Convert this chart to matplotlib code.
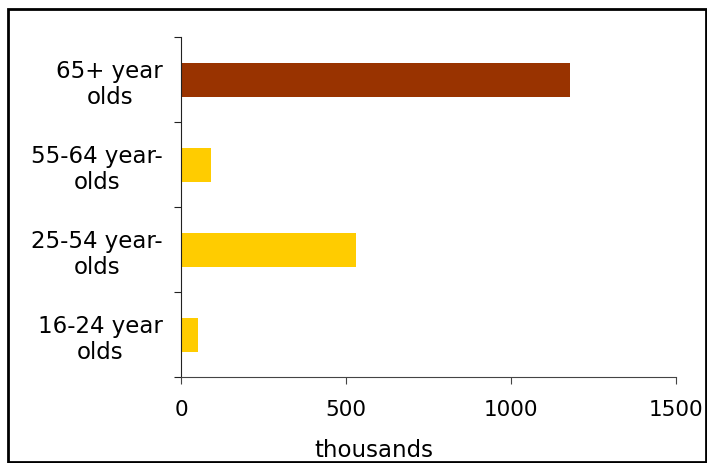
import matplotlib
matplotlib.use("Agg")
import matplotlib.pyplot as plt
from matplotlib.patches import Rectangle

categories = ["16-24 year\nolds", "25-54 year-\nolds", "55-64 year-\nolds", "65+ year\nolds"]
values = [50, 530, 90, 1179]
colors = ["#FFCC00", "#FFCC00", "#FFCC00", "#993300"]
xticks = [0, 500, 1000, 1500]

W, H = 707, 464
fig = plt.figure(figsize=(W / 100, H / 100), dpi=100)
ax = fig.add_axes([181 / W, 1 - 378 / H, (676 - 181) / W, (378 - 38) / H])

ypos = list(range(len(categories)))
ax.barh(ypos, values, height=0.4, color=colors)
ax.set_xlim(0, 1500)
ax.set_ylim(-0.5, len(categories) - 0.5)

ax.set_xticks(xticks)
ax.set_xticklabels([str(t) for t in xticks], fontsize=15.5)
ax.set_yticks([i - 0.5 for i in range(len(categories) + 1)])
ax.set_yticklabels([])
ax.set_yticks(ypos, minor=True)
ax.set_yticklabels(categories, minor=True, fontsize=16.5, multialignment="center", linespacing=1.15)
ax.tick_params(axis="y", which="minor", length=0, pad=13)
ax.tick_params(axis="y", which="major", length=5, direction="out", color="#222222")
ax.tick_params(axis="x", which="major", length=5, direction="out", color="#444444", pad=10.5)

for s in ["top", "right"]:
    ax.spines[s].set_visible(False)
ax.spines["left"].set_color("#222222")
ax.spines["bottom"].set_color("#444444")

fig.text(374 / W, 1 - 451 / H, "thousands", fontsize=16.5, ha="center", va="center")

border = Rectangle((8 / W, 1 - 463 / H), (706 - 8) / W, (463 - 10) / H, transform=fig.transFigure,
                   fill=False, edgecolor="black", linewidth=2, clip_on=False)
fig.patches.append(border)

fig.savefig("out.png", dpi=100)
